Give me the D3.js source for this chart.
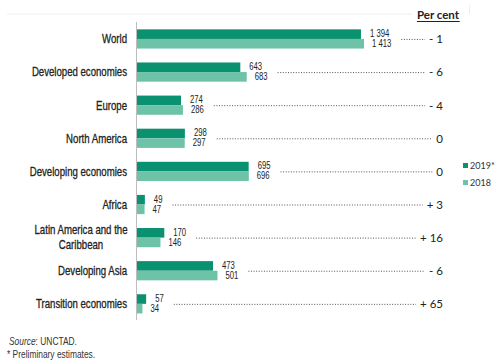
<!DOCTYPE html>
<html>
<head>
<meta charset="utf-8">
<script src="https://cdn.jsdelivr.net/npm/d3@7"></script>
<style>
  body { margin: 0; background: #fff; }
  .cat { font-family: "Liberation Sans", Arial, sans-serif; font-size: 12.5px; fill: #222; stroke: #222; stroke-width: 0.3px; }
  .val { font-family: "Liberation Sans", Arial, sans-serif; font-size: 10px; fill: #222; }
  .pct { font-family: Lato, "Open Sans", sans-serif; font-size: 11.5px; fill: #222; }
  .leg { font-family: Lato, "Open Sans", sans-serif; font-size: 9px; fill: #333; }
  .note { font-family: "Liberation Sans", Arial, sans-serif; font-size: 10.5px; fill: #333; }
</style>
</head>
<body>
<svg id="chart" width="500" height="364"></svg>
<script>
const categories = ['World', 'Developed economies', 'Europe', 'North America', 'Developing economies',
  'Africa', 'Latin America and the Caribbean', 'Developing Asia', 'Transition economies'];
const values2019 = [1394, 643, 274, 298, 695, 49, 170, 473, 57];
const values2018 = [1413, 683, 286, 297, 696, 47, 146, 501, 34];
const valueLabels2019 = ['1 394', '643', '274', '298', '695', '49', '170', '473', '57'];
const valueLabels2018 = ['1 413', '683', '286', '297', '696', '47', '146', '501', '34'];
const percentChange = ['- 1', '- 6', '- 4', '0', '0', '+ 3', '+ 16', '- 6', '+ 65'];
const seriesNames = ['2019*', '2018'];

const colors = ['#0a9170', '#6dc2a8'];
const left = 137;
const squeeze = 0.77;   // no narrow font installed, so condense by hand

const svg = d3.select('#chart');

const x = d3.scaleLinear().domain([0, 1500]).range([left, left + 241]);
const y = d3.scaleBand().domain(categories).range([22.4, 320.4]);
const barH = 9.6;

// faint frame lines at top
svg.append('line').attr('x1', 7).attr('x2', 412).attr('y1', 14).attr('y2', 14)
  .attr('stroke', '#eeeeee');
svg.append('line').attr('x1', 469.5).attr('x2', 469.5).attr('y1', 5).attr('y2', 14)
  .attr('stroke', '#eeeeee');

// axis line
svg.append('line')
  .attr('x1', left - 0.5).attr('x2', left - 0.5)
  .attr('y1', 22).attr('y2', 320)
  .attr('stroke', '#bdbdbd');

const rows = svg.selectAll('g.row').data(categories).enter().append('g')
  .attr('class', 'row')
  .attr('transform', d => `translate(0, ${y(d) + y.bandwidth() / 2})`);

rows.append('rect')
  .attr('x', left).attr('y', -barH)
  .attr('width', (d, i) => x(values2019[i]) - left)
  .attr('height', barH)
  .attr('fill', colors[0]);

rows.append('rect')
  .attr('x', left).attr('y', 0)
  .attr('width', (d, i) => x(values2018[i]) - left)
  .attr('height', barH)
  .attr('fill', colors[1]);

// category labels
rows.each(function(d) {
  const g = d3.select(this);
  if (d === 'Latin America and the Caribbean') {
    const t = g.append('text').attr('class', 'cat').attr('text-anchor', 'middle')
      .attr('transform', `translate(81,0) scale(${squeeze},1)`);
    t.append('tspan').attr('x', 0).attr('dy', '-0.3em').text('Latin America and the');
    t.append('tspan').attr('x', 0).attr('dy', '1.2em').text('Caribbean');
  } else {
    g.append('text').attr('class', 'cat').attr('text-anchor', 'end')
      .attr('transform', `translate(127,0) scale(${squeeze},1)`)
      .attr('dy', '0.35em').text(d);
  }
});

// value labels
const valPos = [];
rows.each(function(d, i) {
  const g = d3.select(this);
  const xa = x(values2019[i]) + 9, xb = x(values2018[i]) + 8;
  const ta = g.append('text').attr('class', 'val')
    .attr('transform', `translate(${xa},-2) scale(${squeeze},1)`).text(valueLabels2019[i]);
  const tb = g.append('text').attr('class', 'val')
    .attr('transform', `translate(${xb},8) scale(${squeeze},1)`).text(valueLabels2018[i]);
  valPos[i] = Math.max(xa + ta.node().getBBox().width * squeeze, xb + tb.node().getBBox().width * squeeze);
});

// percent labels
rows.append('text').attr('class', 'pct')
  .attr('x', 443).attr('dy', '0.38em').attr('text-anchor', 'end')
  .text((d, i) => percentChange[i]);

// dotted leaders
rows.each(function(d, i) {
  const g = d3.select(this);
  const pct = g.select('text.pct').node().getBBox();
  g.append('line')
    .attr('x1', valPos[i] + 10).attr('x2', pct.x - 4)
    .attr('y1', 0.5).attr('y2', 0.5)
    .attr('stroke', '#555').attr('stroke-width', 1)
    .attr('stroke-dasharray', '1,1.6');
});

// header
const hdr = svg.append('text').attr('class', 'pct')
  .attr('x', 438).attr('y', 19).attr('text-anchor', 'middle')
  .attr('font-weight', 'bold').text('Per cent');
const hb = hdr.node().getBBox();
svg.append('line').attr('x1', hb.x).attr('x2', hb.x + hb.width)
  .attr('y1', 21.5).attr('y2', 21.5).attr('stroke', '#222');

// legend
const leg = svg.selectAll('g.leg').data(seriesNames).enter().append('g')
  .attr('transform', (d, i) => `translate(463, ${166 + i * 17})`);
leg.append('rect').attr('x', 0).attr('y', -3).attr('width', 5).attr('height', 5)
  .attr('fill', (d, i) => colors[i]);
leg.append('text').attr('class', 'leg').attr('x', 7).attr('dy', '0.35em').text(d => d);

// notes
const src = svg.append('text').attr('class', 'note').attr('transform', `translate(9,345) scale(0.8,1)`);
src.append('tspan').attr('font-style', 'italic').text('Source');
src.append('tspan').text(': UNCTAD.');
svg.append('text').attr('class', 'note').attr('transform', `translate(7,358) scale(0.8,1)`)
  .text('* Preliminary estimates.');
</script>
</body>
</html>
